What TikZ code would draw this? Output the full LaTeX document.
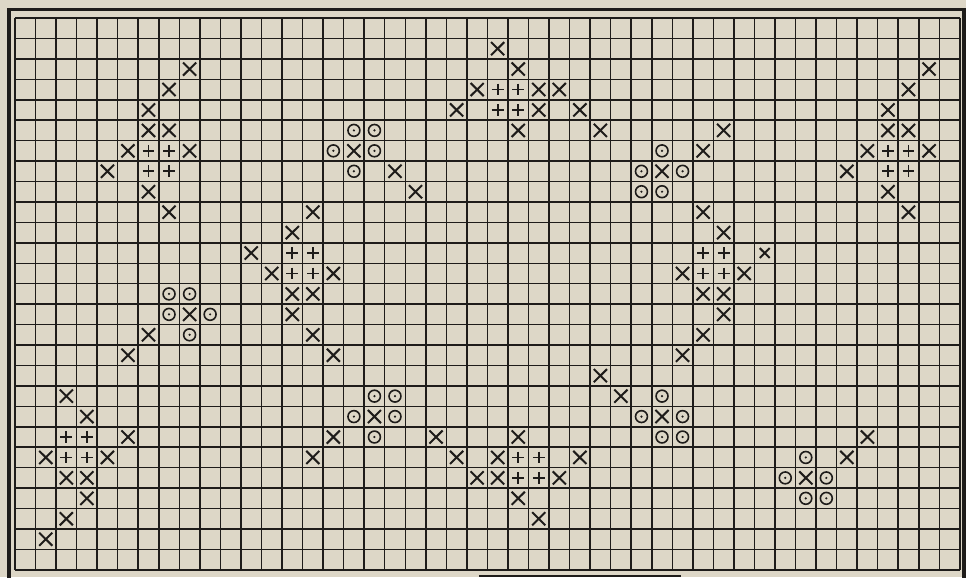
\documentclass[tikz,border=0pt]{standalone}
\definecolor{paper}{RGB}{221,215,199}
\definecolor{ink}{RGB}{30,28,26}
\tikzset{
  xmark/.pic={\draw[ink,line width=0.5mm] (-.32,-.32) -- (.32,.32) (-.32,.32) -- (.32,-.32);},
  pmark/.pic={\draw[ink,line width=0.45mm] (-.29,0) -- (.29,0) (0,-.29) -- (0,.29);},
  omark/.pic={\draw[ink,line width=0.4mm] (0,0) circle (.29); \fill[ink] (0,0) circle (.06);}
}
\begin{document}
\begin{tikzpicture}[x=5.135mm,y=-5.11mm]
    \useasboundingbox[fill=paper] (-0.73,-0.88) rectangle (46.3,27.35);
    % paper grid
    \foreach \c in {0,1,...,46} {
        \draw[ink,line width=0.38mm] (\c,0) -- (\c,27);
    }
    \foreach \r in {0,1,...,27} {
        \draw[ink,line width=0.38mm] (0,\r) -- (46,\r);
    }
    \draw[ink,line width=0.8mm] (-0.29,27.4) -- (-0.29,-0.42) -- (46.2,-0.42) -- (46.2,27.4);
    \draw[ink,line width=0.6mm] (22.6,27.3) -- (32.4,27.3);
    % crosses
    \foreach \c/\r in {8/2,7/3,6/4,6/5,7/5,5/6,8/6,4/7,6/8,7/9,
        16/6,18/7,19/8,
        23/1,24/2,22/3,25/3,26/3,21/4,25/4,27/4,24/5,28/5,
        31/7,33/6,34/5,
        44/2,43/3,42/4,42/5,43/5,41/6,44/6,40/7,42/8,43/9,
        14/9,13/10,11/11,12/12,15/12,13/13,14/13,13/14,14/15,15/16,
        8/14,6/15,5/16,
        33/9,34/10,32/12,35/12,33/13,34/13,34/14,33/15,32/16,28/17,29/18,
        31/19,
        17/19,15/20,14/21,
        2/18,3/19,5/20,1/21,4/21,2/22,3/22,3/23,2/24,1/25,
        20/20,24/20,21/21,23/21,27/21,22/22,23/22,26/22,24/23,25/24,
        38/22,40/21,41/20} {
        \pic at (\c+.5,\r+.5) {xmark};
    }
    \pic[scale=.75] at (36.5,11.5) {xmark};
    % plus signs
    \foreach \c/\r in {6/6,7/6,6/7,7/7,
        23/3,24/3,23/4,24/4,
        42/6,43/6,42/7,43/7,
        13/11,14/11,13/12,14/12,
        33/11,34/11,33/12,34/12,
        2/20,3/20,2/21,3/21,
        24/21,25/21,24/22,25/22} {
        \pic at (\c+.5,\r+.5) {pmark};
    }
    % dotted circles
    \foreach \c/\r in {16/5,17/5,15/6,17/6,16/7,
        31/6,30/7,32/7,30/8,31/8,
        7/13,8/13,7/14,9/14,8/15,
        31/18,30/19,32/19,31/20,32/20,
        17/18,18/18,16/19,18/19,17/20,
        38/21,37/22,39/22,38/23,39/23} {
        \pic at (\c+.5,\r+.5) {omark};
    }
\end{tikzpicture}
\end{document}
